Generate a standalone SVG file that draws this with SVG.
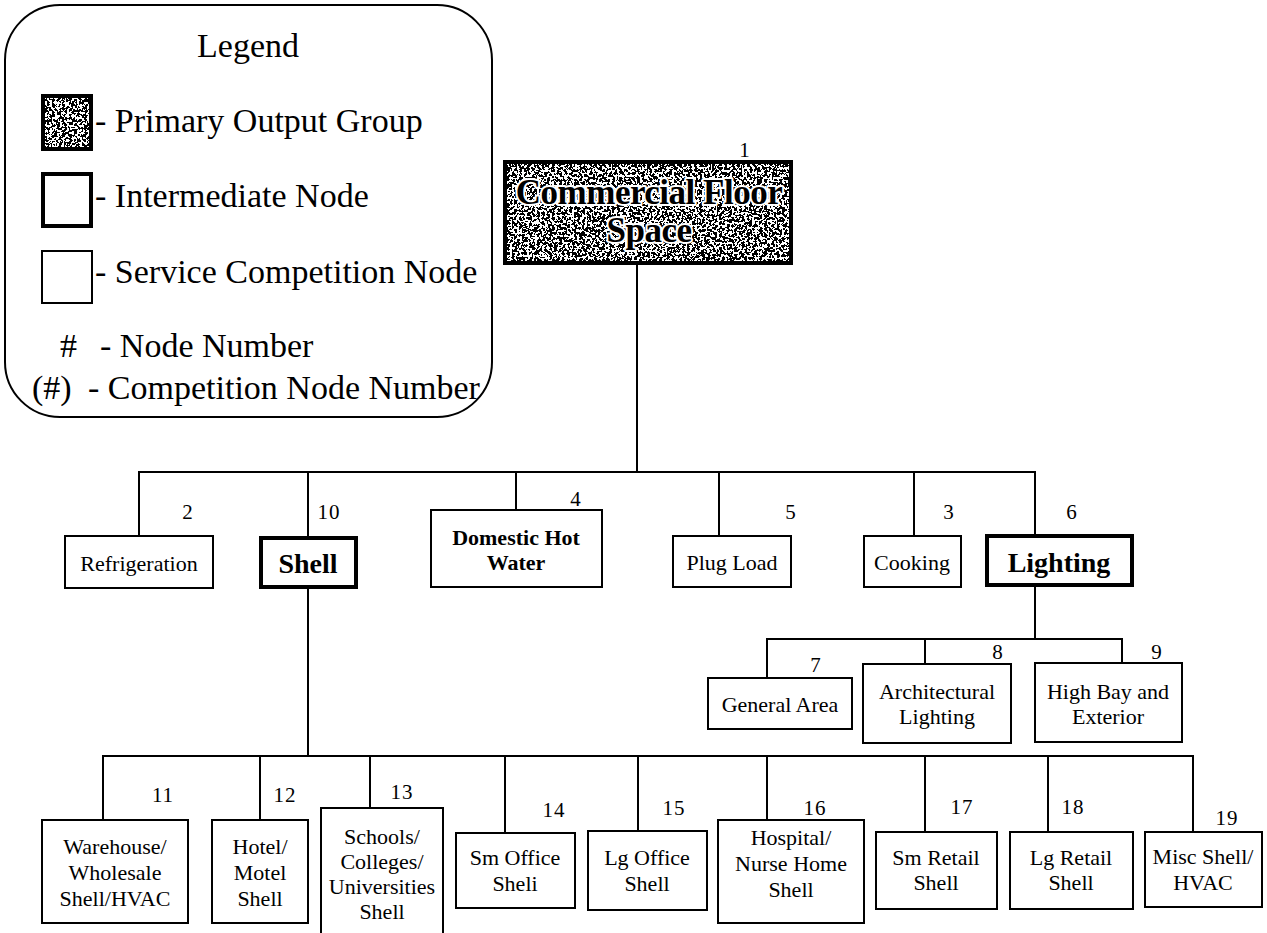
<svg xmlns="http://www.w3.org/2000/svg" width="1267" height="933" viewBox="0 0 1267 933">
<style>
  .box{fill:#fff;stroke:#000;stroke-width:2}
  .thick{fill:none;stroke:#000;stroke-width:4}
  .t{font-family:'Liberation Serif','Times New Roman',serif;font-size:22px;text-anchor:middle;fill:#000}
  .b{font-weight:bold}
  .big{font-size:28px}
  .num{font-family:'Liberation Serif','Times New Roman',serif;font-size:21px;text-anchor:middle;fill:#000;letter-spacing:1px}
  .lg{font-family:'Liberation Serif','Times New Roman',serif;font-size:34px;fill:#000}
  .halo{font-family:'Liberation Serif','Times New Roman',serif;font-size:35px;font-weight:bold;text-anchor:middle;fill:#000;stroke:#fff;stroke-width:4;paint-order:stroke;stroke-linejoin:round;letter-spacing:-0.5px}
  #connectors path{fill:none;stroke:#000;stroke-width:2}
</style>
<defs>
  <filter id="stipple" x="0" y="0" width="1" height="1" color-interpolation-filters="sRGB">
    <feTurbulence type="fractalNoise" baseFrequency="0.4" numOctaves="2" seed="7"/>
    <feColorMatrix type="saturate" values="0"/>
    <feComponentTransfer>
      <feFuncR type="discrete" tableValues="0 0 0 0 0 0 0 0 0 0 1 1 1 1 1 1 1 1 1 1"/>
      <feFuncG type="discrete" tableValues="0 0 0 0 0 0 0 0 0 0 1 1 1 1 1 1 1 1 1 1"/>
      <feFuncB type="discrete" tableValues="0 0 0 0 0 0 0 0 0 0 1 1 1 1 1 1 1 1 1 1"/>
      <feFuncA type="linear" slope="0" intercept="1"/>
    </feComponentTransfer>
  </filter>
</defs>
<rect width="1267" height="933" fill="#fff"/>

<g id="legend">
  <rect x="5" y="5" width="487" height="412" rx="55" ry="55" fill="none" stroke="#000" stroke-width="2"/>
  <text class="lg" x="248" y="57" text-anchor="middle">Legend</text>
  <rect x="43" y="96" width="48" height="53" fill="#fff" filter="url(#stipple)"/>
  <rect x="43" y="96" width="48" height="53" class="thick"/>
  <text class="lg" x="95" y="132">- Primary Output Group</text>
  <rect x="43" y="174" width="48" height="52" class="thick"/>
  <text class="lg" x="95" y="207">- Intermediate Node</text>
  <rect x="42" y="251" width="50" height="52" class="box"/>
  <text class="lg" x="95" y="283">- Service Competition Node</text>
  <text class="lg" x="60" y="357">#</text>
  <text class="lg" x="100" y="357">- Node Number</text>
  <text class="lg" x="32" y="399">(#)</text>
  <text class="lg" x="88" y="399">- Competition Node Number</text>
</g>

<g id="connectors">
  <path d="M637 265V472"/>
  <path d="M139 536V472H1035V534"/>
  <path d="M308 472V536"/>
  <path d="M516 472V510"/>
  <path d="M719 472V536"/>
  <path d="M914 472V536"/>
  <path d="M1035 587V639"/>
  <path d="M767 678V639H1122V663"/>
  <path d="M925 639V664"/>
  <path d="M308 589V756"/>
  <path d="M103 820V756H1193V832"/>
  <path d="M260 756V820"/>
  <path d="M370 756V808"/>
  <path d="M505 756V833"/>
  <path d="M638 756V831"/>
  <path d="M767 756V820"/>
  <path d="M925 756V832"/>
  <path d="M1048 756V832"/>
</g>

<g id="n1">
  <rect x="505" y="162" width="286" height="101" fill="#fff" filter="url(#stipple)"/>
  <rect x="505" y="162" width="286" height="101" class="thick"/>
  <text class="halo" x="649" y="204">Commercial Floor</text>
  <text class="halo" x="649" y="242">Space</text>
  <text class="num" x="745" y="157">1</text>
</g>
<g id="n2">
  <rect x="65" y="536" width="148" height="52" class="box"/>
  <text class="t" x="139" y="571">Refrigeration</text>
  <text class="num" x="188" y="519">2</text>
</g>
<g id="n10">
  <rect x="261" y="538" width="95" height="49" class="thick"/>
  <text class="t b big" x="308" y="573">Shell</text>
  <text class="num" x="329" y="519">10</text>
</g>
<g id="n4">
  <rect x="431" y="510" width="171" height="77" class="box"/>
  <text class="t b" x="516" y="545">Domestic Hot</text>
  <text class="t b" x="516" y="570">Water</text>
  <text class="num" x="576" y="506">4</text>
</g>
<g id="n5">
  <rect x="673" y="536" width="118" height="51" class="box"/>
  <text class="t" x="732" y="570">Plug Load</text>
  <text class="num" x="791" y="519">5</text>
</g>
<g id="n3">
  <rect x="864" y="536" width="97" height="51" class="box"/>
  <text class="t" x="912" y="570">Cooking</text>
  <text class="num" x="949" y="519">3</text>
</g>
<g id="n6">
  <rect x="987" y="536" width="145" height="49" class="thick"/>
  <text class="t b big" x="1059" y="572">Lighting</text>
  <text class="num" x="1072" y="519">6</text>
</g>
<g id="n7">
  <rect x="708" y="678" width="144" height="51" class="box"/>
  <text class="t" x="780" y="712">General Area</text>
  <text class="num" x="816" y="672">7</text>
</g>
<g id="n8">
  <rect x="863" y="664" width="148" height="79" class="box"/>
  <text class="t" x="937" y="699">Architectural</text>
  <text class="t" x="937" y="724">Lighting</text>
  <text class="num" x="998" y="659">8</text>
</g>
<g id="n9">
  <rect x="1035" y="663" width="147" height="79" class="box"/>
  <text class="t" x="1108" y="699">High Bay and</text>
  <text class="t" x="1108" y="724">Exterior</text>
  <text class="num" x="1157" y="659">9</text>
</g>
<g id="n11">
  <rect x="42" y="820" width="146" height="103" class="box"/>
  <text class="t" x="115" y="854">Warehouse/</text>
  <text class="t" x="115" y="880">Wholesale</text>
  <text class="t" x="115" y="906">Shell/HVAC</text>
  <text class="num" x="163" y="802">11</text>
</g>
<g id="n12">
  <rect x="212" y="820" width="96" height="103" class="box"/>
  <text class="t" x="260" y="854">Hotel/</text>
  <text class="t" x="260" y="880">Motel</text>
  <text class="t" x="260" y="906">Shell</text>
  <text class="num" x="285" y="802">12</text>
</g>
<g id="n13">
  <rect x="321" y="808" width="122" height="135" class="box"/>
  <text class="t" x="382" y="844">Schools/</text>
  <text class="t" x="382" y="869">Colleges/</text>
  <text class="t" x="382" y="894">Universities</text>
  <text class="t" x="382" y="919">Shell</text>
  <text class="num" x="402" y="799">13</text>
</g>
<g id="n14">
  <rect x="456" y="833" width="119" height="75" class="box"/>
  <text class="t" x="515" y="865">Sm Office</text>
  <text class="t" x="515" y="891">Sheli</text>
  <text class="num" x="554" y="817">14</text>
</g>
<g id="n15">
  <rect x="588" y="831" width="119" height="79" class="box"/>
  <text class="t" x="647" y="865">Lg Office</text>
  <text class="t" x="647" y="891">Shell</text>
  <text class="num" x="674" y="815">15</text>
</g>
<g id="n16">
  <rect x="718" y="820" width="146" height="103" class="box"/>
  <text class="t" x="791" y="845">Hospital/</text>
  <text class="t" x="791" y="871">Nurse Home</text>
  <text class="t" x="791" y="897">Shell</text>
  <text class="num" x="815" y="815">16</text>
</g>
<g id="n17">
  <rect x="876" y="832" width="121" height="77" class="box"/>
  <text class="t" x="936" y="865">Sm Retail</text>
  <text class="t" x="936" y="890">Shell</text>
  <text class="num" x="962" y="814">17</text>
</g>
<g id="n18">
  <rect x="1010" y="832" width="123" height="77" class="box"/>
  <text class="t" x="1071" y="865">Lg Retail</text>
  <text class="t" x="1071" y="890">Shell</text>
  <text class="num" x="1073" y="814">18</text>
</g>
<g id="n19">
  <rect x="1145" y="832" width="117" height="75" class="box"/>
  <text class="t" x="1203" y="864">Misc Shell/</text>
  <text class="t" x="1203" y="890">HVAC</text>
  <text class="num" x="1227" y="825">19</text>
</g>
</svg>
